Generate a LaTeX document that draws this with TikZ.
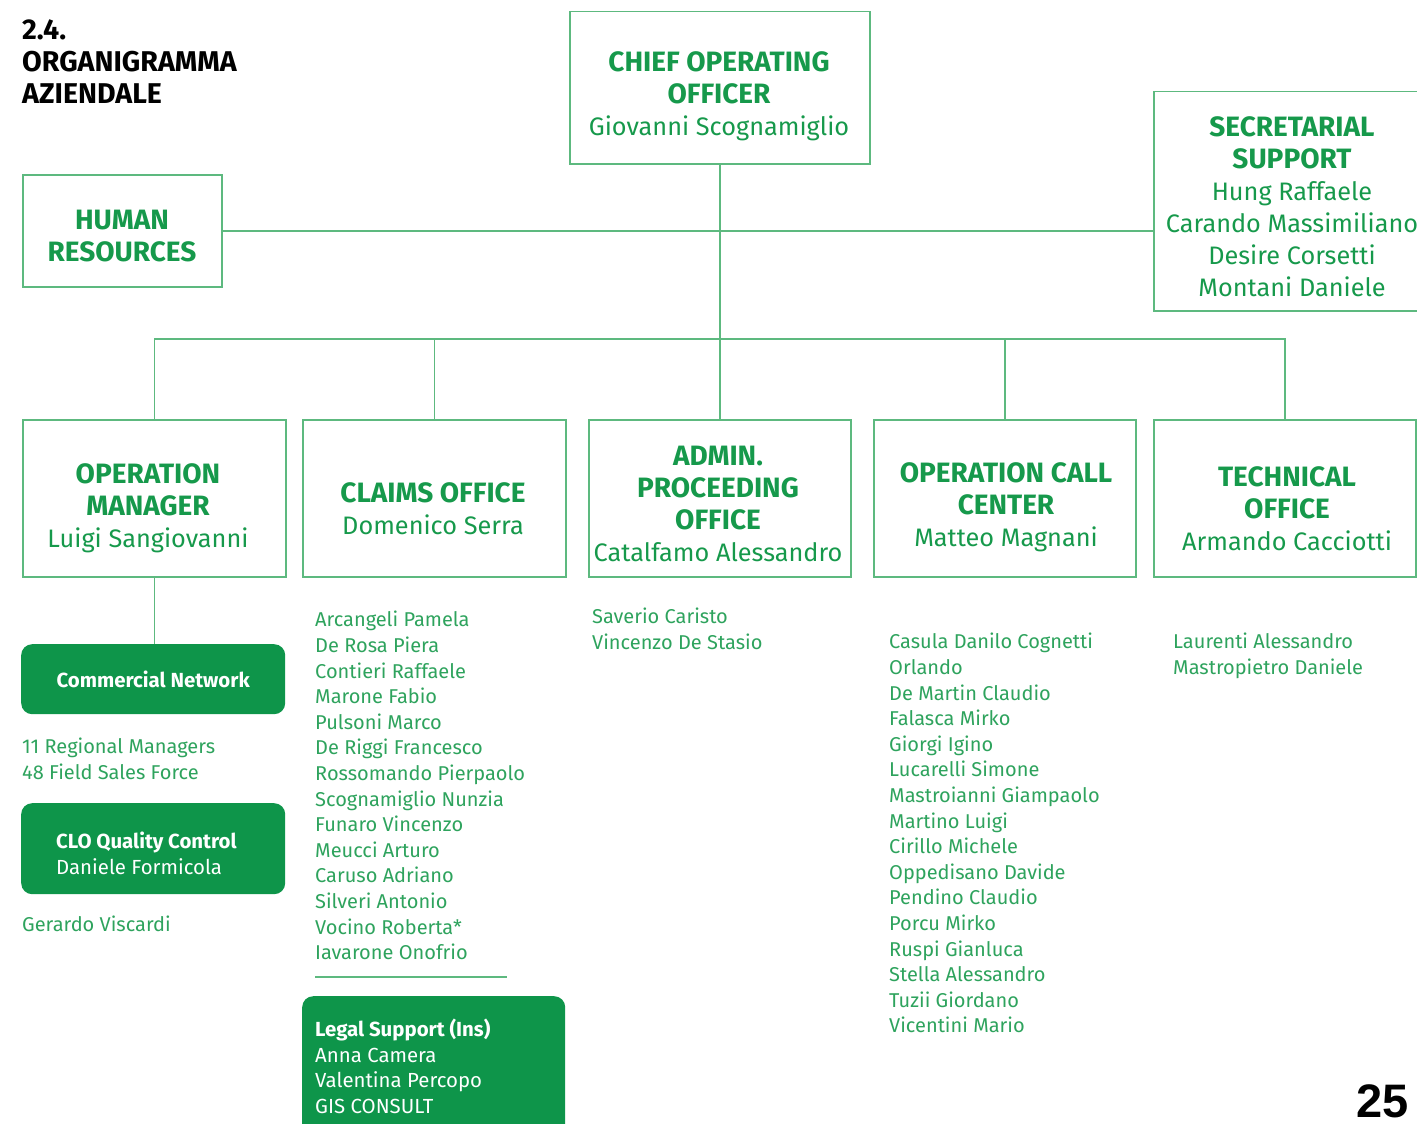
\documentclass[tikz,border=0pt]{standalone}
\usepackage{fontspec}
\setmainfont{Fira Sans}
\newfontfamily\numfont{Liberation Sans}
\definecolor{tg}{HTML}{16994B}
\definecolor{lg}{HTML}{5DB97F}
\definecolor{fg}{HTML}{0E954A}
\definecolor{lt}{HTML}{2EA35D}
\begin{document}
\begin{tikzpicture}[x=1pt,y=-1pt,
  box/.style={draw=lg, line width=1.5pt, anchor=north west, inner sep=0pt},
  fbox/.style={fill=fg, draw=none, rounded corners=11pt, anchor=north west, inner sep=0pt},
  hdr/.style={font=\fontsize{28}{32}\selectfont\bfseries, text=tg, align=center, inner sep=0pt, anchor=north},
  conn/.style={draw=lg, line width=1.5pt},
  lst/.style={font=\fontsize{20}{25.6}\selectfont, text=lt, align=left, inner sep=0pt, anchor=north west},
  wtxt/.style={font=\fontsize{20.4}{25.6}\selectfont, text=white, align=left, inner sep=0pt, anchor=north west},
]
\useasboundingbox (0,0) rectangle (1417,1124);
\newcommand{\nm}[1]{{\fontsize{25.3}{32}\selectfont\mdseries #1}}

% title
\node[font=\fontsize{28.6}{32}\selectfont\bfseries, align=left, inner sep=0pt, anchor=north west] (title) at (22,19) {2.4.\\ORGANIGRAMMA\\AZIENDALE};

% boxes
\node[box, minimum width=300pt, minimum height=152pt] (coo) at (569,11) {};
\node[box, minimum width=199pt, minimum height=112pt] (hr) at (22,174) {};
\node[box, minimum width=290pt, minimum height=219pt] (sec) at (1153,91) {};
\node[box, minimum width=263pt, minimum height=157pt] (opm) at (22,419) {};
\node[box, minimum width=263pt, minimum height=157pt] (claims) at (302,419) {};
\node[box, minimum width=262pt, minimum height=157pt] (admin) at (588,419) {};
\node[box, minimum width=262pt, minimum height=157pt] (call) at (873,419) {};
\node[box, minimum width=262pt, minimum height=157pt] (tech) at (1153,419) {};

% box texts
\node[hdr] (cooT) at (719,51) {CHIEF OPERATING\\OFFICER\\\nm{Giovanni Scognamiglio}};
\node[hdr] (hrT) at (122,210) {HUMAN\\RESOURCES};
\node[hdr] (secT) at (1292,116) {SECRETARIAL\\SUPPORT\\\nm{Hung Raffaele}\\\nm{Carando Massimiliano}\\\nm{Desire Corsetti}\\\nm{Montani Daniele}};
\node[hdr] (opmT) at (148,463) {OPERATION\\MANAGER\\\nm{Luigi Sangiovanni}};
\node[hdr] (claimsT) at (433,482) {CLAIMS OFFICE\\\nm{Domenico Serra}};
\node[hdr] (adminT) at (718,446) {ADMIN.\\PROCEEDING\\OFFICE\\\nm{Catalfamo Alessandro}};
\node[hdr] (callT) at (1006,462) {OPERATION CALL\\CENTER\\\nm{Matteo Magnani}};
\node[hdr] (techT) at (1287,466) {TECHNICAL\\OFFICE\\\nm{Armando Cacciotti}};

% connectors
\coordinate (bus) at (719,339);
\draw[conn] (hr.east) -- (hr.east -| sec.west);
\draw[conn] (coo.south) -- (coo.south |- admin.north);
\draw[conn] (opm.north) -- (opm.north |- bus) -- (tech.north |- bus) -- (tech.north);
\draw[conn] (claims.north) -- (claims.north |- bus);
\draw[conn] (call.north) -- (call.north |- bus);

% green boxes
\node[fbox, minimum width=264pt, minimum height=70pt] (cn) at (21,644) {};
\node[font=\fontsize{20.4}{24}\selectfont\bfseries, text=white, inner sep=0pt] (cnT) at (cn.center) {Commercial Network};
\draw[conn] (opm.south) -- (opm.south |- cn.north);
\node[lst] (cnL) at (22,738) {11 Regional Managers\\48 Field Sales Force};

\node[fbox, minimum width=264pt, minimum height=91pt] (clo) at (21,803) {};
\node[wtxt] (cloT) at (56,832) {\textbf{CLO Quality Control}\\Daniele Formicola};
\node[lst] (gv) at (22,916) {Gerardo Viscardi};

% claims list
\node[lst] (claimsL) at (315,611) {Arcangeli Pamela\\De Rosa Piera\\Contieri Raffaele\\Marone Fabio\\Pulsoni Marco\\De Riggi Francesco\\Rossomando Pierpaolo\\Scognamiglio Nunzia\\Funaro Vincenzo\\Meucci Arturo\\Caruso Adriano\\Silveri Antonio\\Vocino Roberta*\\Iavarone Onofrio};
\coordinate (u1) at (315,977);
\coordinate (u2) at (507,977);
\draw[conn] (u1) -- (u2);
\node[fbox, minimum width=263pt, minimum height=150pt] (legal) at (302,996) {};
\node[wtxt] (legalT) at (315,1019) {\textbf{Legal Support (Ins)}\\Anna Camera\\Valentina Percopo\\GIS CONSULT};

% admin list
\node[lst] (adminL) at (592,608) {Saverio Caristo\\Vincenzo De Stasio};

% call center list
\node[lst] (callL) at (889,633) {Casula Danilo Cognetti\\Orlando\\De Martin Claudio\\Falasca Mirko\\Giorgi Igino\\Lucarelli Simone\\Mastroianni Giampaolo\\Martino Luigi\\Cirillo Michele\\Oppedisano Davide\\Pendino Claudio\\Porcu Mirko\\Ruspi Gianluca\\Stella Alessandro\\Tuzii Giordano\\Vicentini Mario};

% technical list
\node[lst] (techL) at (1173,633) {Laurenti Alessandro\\Mastropietro Daniele};

% page number
\node[font=\fontsize{47}{47}\selectfont\numfont\bfseries, inner sep=0pt, anchor=south east] (pg) at (1409,1118) {25};
\end{tikzpicture}
\end{document}
